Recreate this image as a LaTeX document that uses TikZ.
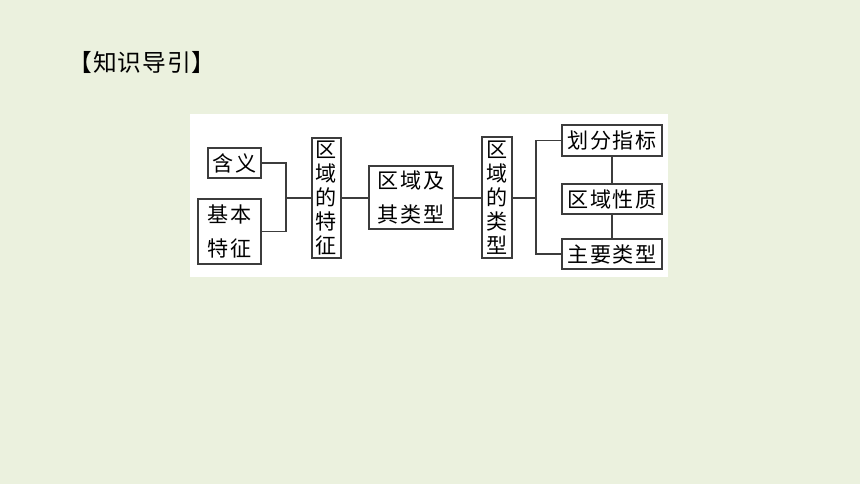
\documentclass[tikz,border=0pt]{standalone}
\usepackage{fontspec}
\usetikzlibrary{positioning}
\newfontfamily\cjk[LetterSpace=8]{Noto Sans CJK SC}
\newfontfamily\cjkt{Noto Sans CJK SC}
\newfontfamily\cjkh[LetterSpace=4]{Noto Sans CJK SC}
\definecolor{pagebg}{RGB}{235,241,222}
\definecolor{linegray}{RGB}{60,60,60}
\tikzset{
  box/.style={draw=linegray, line width=0.6pt, inner sep=0pt, align=center,
    font=\cjk\fontsize{12}{19}\selectfont, text=black},
  colbox/.style={box, font=\cjkt\fontsize{12}{13.6}\selectfont},
  link/.style={draw=linegray, line width=0.6pt}
}
\begin{document}
\begin{tikzpicture}[x=0.2mm, y=-0.2mm]
\fill[pagebg] (0, 0) rectangle (860, 484);
\fill[white] (190, 114) rectangle (668, 277);

\node[font=\cjkh\fontsize{13.5}{16}\selectfont] (title) at (142, 62) {【知识导引】};

% left side
\node[box, minimum width=53*0.2mm, minimum height=30*0.2mm] (hanyi) at (234.5, 163) {含义};
\node[box, minimum width=63*0.2mm, minimum height=65*0.2mm] (jiben) at (229.5, 231.5) {基本\\特征};
\node[colbox, minimum width=29*0.2mm, minimum height=120*0.2mm] (tezheng) at (326.5, 198) {区\\域\\的\\特\\征};
\node[box, minimum width=84*0.2mm, minimum height=63*0.2mm] (quyu) at (411, 197.5) {区域及\\其类型};
\node[colbox, minimum width=30*0.2mm, minimum height=121*0.2mm] (leixing) at (497, 197.5) {区\\域\\的\\类\\型};

% right side
\node[box, minimum width=100*0.2mm, minimum height=31*0.2mm] (huafen) at (612, 140.5) {划分指标};
\node[box, minimum width=100*0.2mm, minimum height=30*0.2mm] (xingzhi) at (612, 199) {区域性质};
\node[box, minimum width=100*0.2mm, minimum height=30*0.2mm] (zhuyao) at (612, 254) {主要类型};

\coordinate (j1) at (286, 198);
\coordinate (j2) at (536, 198);

\draw[link] (hanyi.east) -| (j1) |- (jiben.east);
\draw[link] (j1) -- (tezheng.west);
\draw[link] (tezheng.east |- j1) -- (quyu.west |- j1);
\draw[link] (quyu.east |- j1) -- (leixing.west |- j1);
\draw[link] (leixing.east |- j2) -- (j2);
\draw[link] (huafen.west) -| (j2) |- (zhuyao.west);
\draw[link] (huafen) -- (xingzhi);
\draw[link] (xingzhi) -- (zhuyao);
\end{tikzpicture}
\end{document}
